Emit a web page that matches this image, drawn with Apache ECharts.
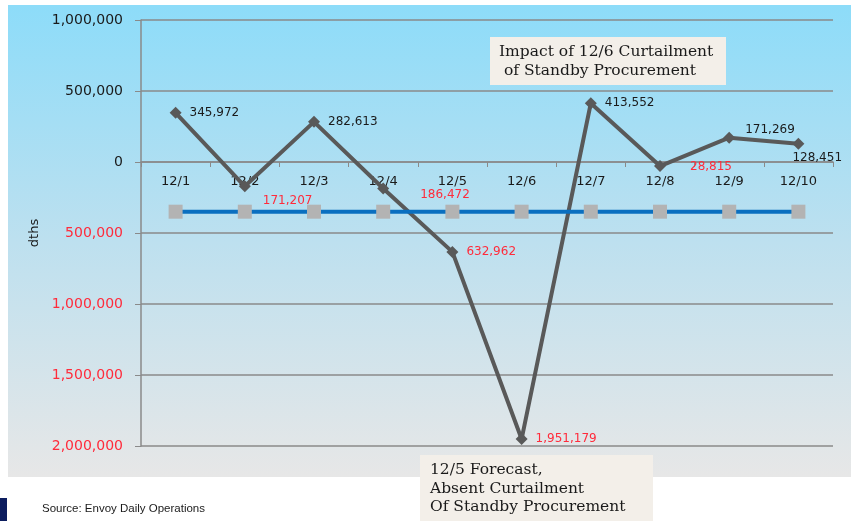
<!DOCTYPE html>
<html>
<head>
<meta charset="utf-8">
<script src="https://cdn.jsdelivr.net/npm/echarts@6/dist/echarts.min.js"></script>
<style>
  html, body { margin: 0; padding: 0; background: #fff; }
  #main { width: 857px; height: 521px; }
</style>
</head>
<body>
<div id="main"></div>
<script>
// chart data
var days = ['12/1', '12/2', '12/3', '12/4', '12/5', '12/6', '12/7', '12/8', '12/9', '12/10'];
var actualFlow = [345972, -171207, 282613, -186472, -632962, -1951179, 413552, -28815, 171269, 128451];
var baseLine = [-350000, -350000, -350000, -350000, -350000, -350000, -350000, -350000, -350000, -350000];
var yTicks = [-2000000, -1500000, -1000000, -500000, 0, 500000, 1000000];

var noteTop = ['Impact of 12/6 Curtailment', ' of Standby Procurement'];
var noteBottom = ['12/5 Forecast,', 'Absent Curtailment', 'Of Standby Procurement'];
var sourceText = 'Source: Envoy Daily Operations';

function fmt(v) {
    return Math.abs(v).toString().replace(/\B(?=(\d{3})+(?!\d))/g, ',');
}

// label nudges per day (default = right of point)
var labelNudge = {
    1: [4, 15],
    3: [23, 6],
    7: [16, 1],
    8: [2, -8],
    9: [-20, 14]
};

var chart = echarts.init(document.getElementById('main'));

var flowData = actualFlow.map(function (v, i) {
    var item = {
        value: v,
        label: {
            color: v < 0 ? '#ff2b3b' : '#1a1a1a'
        }
    };
    if (labelNudge[i]) item.label.offset = labelNudge[i];
    return item;
});

var gridTop = 20, gridBottom = 75, plotH = 521 - gridTop - gridBottom;
// x axis sits on the zero line: shift it up from the bottom
var zeroOffset = -plotH * (0 - yTicks[0]) / (yTicks[yTicks.length - 1] - yTicks[0]);

var option = {
    backgroundColor: '#ffffff',
    animation: false,
    textStyle: { fontFamily: 'DejaVu Sans' },
    grid: { left: 141, right: 24, top: gridTop, bottom: gridBottom },
    xAxis: {
        type: 'category',
        data: days,
        boundaryGap: true,
        offset: zeroOffset,
        axisLine: { onZero: false, lineStyle: { color: '#8a8a8a', width: 1.5 } },
        axisTick: { show: true, length: 5, lineStyle: { color: '#8a8a8a' } },
        axisLabel: { color: '#1a1a1a', fontSize: 13, margin: 13 },
        splitLine: { show: false }
    },
    yAxis: {
        type: 'value',
        min: yTicks[0],
        max: yTicks[yTicks.length - 1],
        interval: 500000,
        name: 'dths',
        nameLocation: 'middle',
        nameRotate: 90,
        nameGap: 100,
        nameTextStyle: { color: '#1a1a1a', fontSize: 13 },
        axisLine: { show: true, lineStyle: { color: '#8a8a8a', width: 1.5 } },
        axisTick: { show: true, length: 6, lineStyle: { color: '#8a8a8a' } },
        splitLine: { lineStyle: { color: '#8a8a8a', width: 1.5 } },
        axisLabel: {
            fontSize: 14,
            margin: 18,
            formatter: function (v) {
                return v < 0 ? '{r|' + fmt(v) + '}' : '{k|' + fmt(v) + '}';
            },
            rich: {
                r: { color: '#ff2b3b', fontSize: 14 },
                k: { color: '#1a1a1a', fontSize: 14 }
            }
        }
    },
    series: [
        {
            name: 'flow',
            type: 'line',
            data: flowData,
            symbol: 'diamond',
            symbolSize: 12,
            itemStyle: { color: '#595959' },
            lineStyle: { color: '#595959', width: 4 },
            label: {
                show: true,
                position: 'right',
                distance: 8,
                fontSize: 12,
                formatter: function (p) { return fmt(p.value); }
            },
            z: 3
        },
        {
            name: 'base',
            type: 'line',
            data: baseLine,
            symbol: 'rect',
            symbolSize: 14,
            itemStyle: { color: '#b3b3b3' },
            lineStyle: { color: '#0a6fc0', width: 4 },
            z: 4
        }
    ],
    graphic: [
        {
            type: 'rect',
            z: -10,
            silent: true,
            shape: { x: 8, y: 5, width: 843, height: 472 },
            style: {
                fill: new echarts.graphic.LinearGradient(0, 0, 0, 1, [
                    { offset: 0, color: '#8ddcf9' },
                    { offset: 0.5, color: '#bde0ef' },
                    { offset: 1, color: '#e7e7e7' }
                ])
            }
        },
        {
            type: 'group',
            left: 490,
            top: 37,
            children: [
                { type: 'rect', shape: { x: 0, y: 0, width: 236, height: 48 }, style: { fill: '#f3efe9' } },
                {
                    type: 'text', x: 9, y: 5,
                    style: {
                        text: noteTop.join('\n'),
                        font: '15.5px "DejaVu Serif"',
                        lineHeight: 19,
                        fill: '#1a1a1a'
                    }
                }
            ]
        },
        {
            type: 'group',
            left: 420,
            top: 455,
            children: [
                { type: 'rect', shape: { x: 0, y: 0, width: 233, height: 66 }, style: { fill: '#f3efe9' } },
                {
                    type: 'text', x: 10, y: 6,
                    style: {
                        text: noteBottom.join('\n'),
                        font: '15.5px "DejaVu Serif"',
                        lineHeight: 18.5,
                        fill: '#1a1a1a'
                    }
                }
            ]
        },
        {
            type: 'rect',
            shape: { x: 0, y: 498, width: 7, height: 23 },
            style: { fill: '#0c1d5e' }
        },
        {
            type: 'text',
            left: 42,
            top: 503,
            style: {
                text: sourceText,
                font: '11.5px "Liberation Sans"',
                fill: '#1a1a1a'
            }
        }
    ]
};

chart.setOption(option);
</script>
</body>
</html>
